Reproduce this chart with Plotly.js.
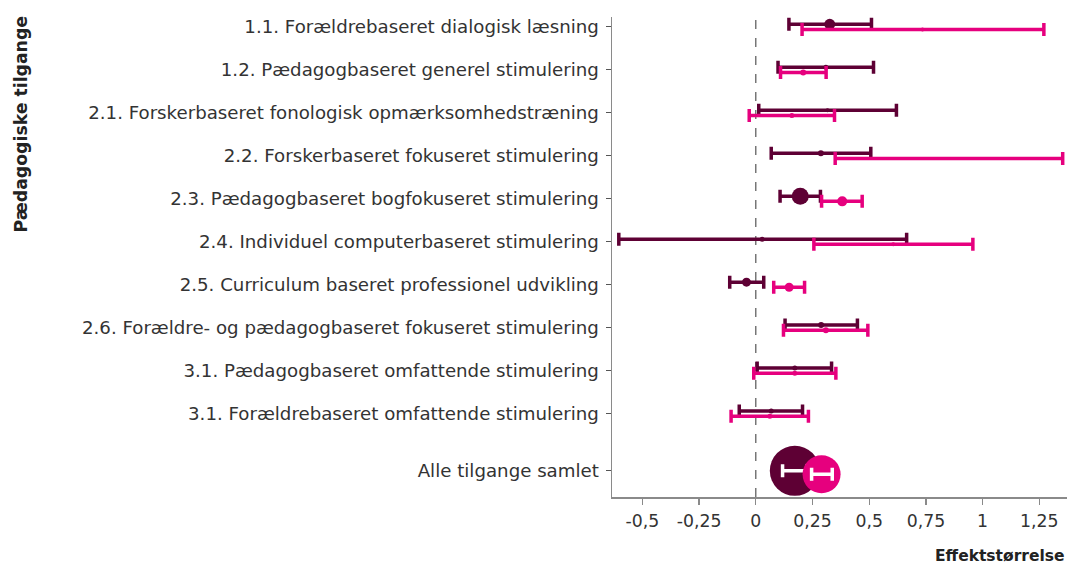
<!DOCTYPE html>
<html>
<head>
<meta charset="utf-8">
<script src="https://cdn.plot.ly/plotly-3.0.1.min.js"></script>
<style>html,body{margin:0;padding:0;background:#fff;}#chart{width:1069px;height:565px;}</style>
</head>
<body>
<div id="chart"></div>
<script>
const categories = [
  "1.1. Forældrebaseret dialogisk læsning",
  "1.2. Pædagogbaseret generel stimulering",
  "2.1. Forskerbaseret fonologisk opmærksomhedstræning",
  "2.2. Forskerbaseret fokuseret stimulering",
  "2.3. Pædagogbaseret bogfokuseret stimulering",
  "2.4. Individuel computerbaseret stimulering",
  "2.5. Curriculum baseret professionel udvikling",
  "2.6. Forældre- og pædagogbaseret fokuseret stimulering",
  "3.1. Pædagogbaseret omfattende stimulering",
  "3.1. Forældrebaseret omfattende stimulering",
  "Alle tilgange samlet"
];
// Series A (dark)
const darkEst   = [0.326, 0.309, 0.316, 0.287, 0.196, 0.028, -0.041, 0.288, 0.172, 0.068, 0.172];
const darkLow   = [0.146, 0.098, 0.013, 0.068, 0.107, -0.604, -0.115, 0.129, 0.006, -0.073, 0.118];
const darkHigh  = [0.510, 0.519, 0.620, 0.507, 0.285, 0.665, 0.035, 0.448, 0.334, 0.206, 0.226];
const darkSize  = [11, 5, 4, 6, 17, 5, 9, 6, 5, 5, 50];
// Series B (pink)
const pinkEst   = [0.735, 0.209, 0.159, 0.851, 0.381, 0.606, 0.147, 0.309, 0.172, 0.062, 0.290];
const pinkLow   = [0.204, 0.109, -0.029, 0.350, 0.290, 0.256, 0.079, 0.122, -0.009, -0.109, 0.246];
const pinkHigh  = [1.270, 0.310, 0.347, 1.353, 0.469, 0.957, 0.215, 0.494, 0.353, 0.232, 0.337];
const pinkSize  = [4, 6, 5, 3, 10, 4, 9, 6, 5, 5, 38];
const xTickVals = [-0.5, -0.25, 0, 0.25, 0.5, 0.75, 1, 1.25];
const xTickText = ["-0,5", "-0,25", "0", "0,25", "0,5", "0,75", "1", "1,25"];

const DARK = "#5e0034", PINK = "#e6007e";
const n = categories.length;
const last = n - 1;
const yPos = categories.map((c, i) => i + (i === last ? 0.33 : 0));

function errTrace(est, low, high, idx0, idx1, off, errColor) {
  const ys = yPos.slice(idx0, idx1).map(v => v + off);
  const xs = est.slice(idx0, idx1);
  return {
    type: "scatter", mode: "markers", x: xs, y: ys, hoverinfo: "skip",
    marker: { color: errColor, size: 1, opacity: 0 },
    error_x: {
      type: "data", symmetric: false,
      array: xs.map((v, k) => high[idx0 + k] - v),
      arrayminus: xs.map((v, k) => v - low[idx0 + k]),
      color: errColor, thickness: 3.5, width: 6.5, visible: true
    }
  };
}
function markerTrace(est, idx0, idx1, off, color, size) {
  return {
    type: "scatter", mode: "markers", hoverinfo: "skip",
    x: est.slice(idx0, idx1), y: yPos.slice(idx0, idx1).map(v => v + off),
    marker: { color: color, size: size.slice(idx0, idx1), opacity: 1, line: {width: 0} }
  };
}

const traces = [
  errTrace(darkEst, darkLow, darkHigh, 0, last, -0.06, DARK),
  markerTrace(darkEst, 0, last, -0.06, DARK, darkSize),
  errTrace(pinkEst, pinkLow, pinkHigh, 0, last, 0.06, PINK),
  markerTrace(pinkEst, 0, last, 0.06, PINK, pinkSize),
  markerTrace(darkEst, last, n, 0, DARK, darkSize),
  errTrace(darkEst, darkLow, darkHigh, last, n, 0, "#ffffff"),
  markerTrace(pinkEst, last, n, 0.08, PINK, pinkSize),
  errTrace(pinkEst, pinkLow, pinkHigh, last, n, 0.08, "#ffffff")
];

const FONT = "'DejaVu Sans', 'Noto Sans', sans-serif";
const layout = {
  width: 1069, height: 565,
  margin: { l: 612, r: 2, t: 17, b: 68 },
  paper_bgcolor: "#fff", plot_bgcolor: "#fff",
  showlegend: false,
  font: { family: FONT, color: "#333", size: 16 },
  xaxis: {
    range: [-0.634, 1.372], tickvals: xTickVals, ticktext: xTickText,
    showgrid: false, zeroline: false, showline: true, linecolor: "#8a8a8a", linewidth: 1.5,
    ticks: "outside", ticklen: 6, tickcolor: "#8a8a8a", tickwidth: 1.2, ticklabelstandoff: 2,
    tickfont: { size: 17.3, color: "#333", family: FONT }
  },
  yaxis: {
    range: [10.94, -0.23], tickvals: yPos, ticktext: categories,
    showgrid: false, zeroline: false, showline: true, linecolor: "#8a8a8a", linewidth: 1.5,
    ticks: "outside", ticklen: 5, tickcolor: "#555", tickwidth: 1.2, ticklabelstandoff: 3,
    tickfont: { size: 18.2, color: "#333", family: FONT }
  },
  shapes: [{
    type: "line", xref: "x", yref: "paper", x0: 0, x1: 0, y0: 0, y1: 1,
    line: { color: "#555", width: 1.2, dash: "dash" }, layer: "below"
  }],
  annotations: [
    { text: "<b>Pædagogiske tilgange</b>", xref: "paper", yref: "paper", x: -1.299, y: 0.776,
      xanchor: "center", yanchor: "middle", textangle: -90, showarrow: false,
      font: { size: 17.3, color: "#222", family: FONT } },
    { text: "<b>Effektstørrelse</b>", xref: "paper", yref: "paper", x: 1, y: -0.123,
      xanchor: "right", yanchor: "middle", showarrow: false,
      font: { size: 15.5, color: "#222", family: FONT } }
  ]
};

Plotly.newPlot("chart", traces, layout, { displayModeBar: false, staticPlot: true });
</script>
</body>
</html>
